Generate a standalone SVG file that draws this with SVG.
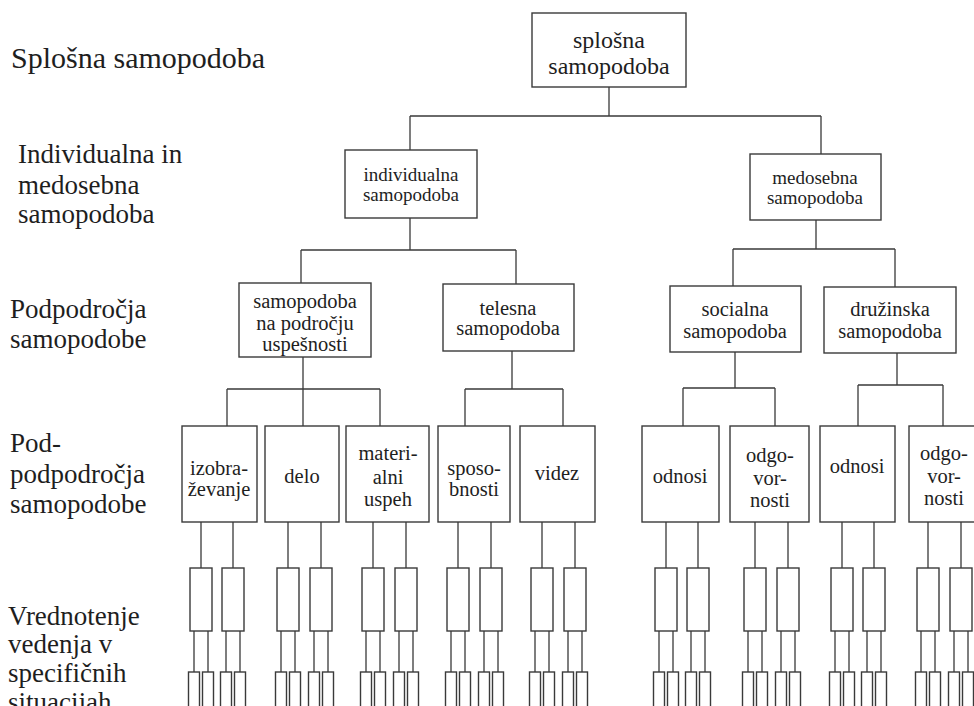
<svg xmlns="http://www.w3.org/2000/svg" width="974" height="706" viewBox="0 0 974 706">
<style>
.bg{fill:#ffffff}
.box{fill:none;stroke:#3a3a3a;stroke-width:1.4}
.conn{fill:none;stroke:#3a3a3a;stroke-width:1.3}
.lbl{font-family:"Liberation Serif","Times New Roman",serif;fill:#1e1e1e}
.side{font-size:27px}
.head{font-size:30px}
.t24{font-size:24px;text-anchor:middle}
.t20{font-size:20.5px;text-anchor:middle}
.t19{font-size:19px;text-anchor:middle}
</style>
<rect class="bg" x="0" y="0" width="974" height="706"/>

<g id="side-labels" class="lbl">
  <text class="head" x="11" y="68">Splošna samopodoba</text>
  <text class="side" x="18" y="163">Individualna in</text>
  <text class="side" x="18" y="194">medosebna</text>
  <text class="side" x="18" y="223">samopodoba</text>
  <text class="side" x="10" y="318">Podpodročja</text>
  <text class="side" x="10" y="348">samopodobe</text>
  <text class="side" x="10" y="452">Pod-</text>
  <text class="side" x="10" y="483">podpodročja</text>
  <text class="side" x="10" y="513">samopodobe</text>
  <text class="side" x="8" y="625">Vrednotenje</text>
  <text class="side" x="8" y="653">vedenja v</text>
  <text class="side" x="8" y="682">specifičnih</text>
  <text class="side" x="8" y="711">situacijah</text>
</g>

<g id="connectors" class="conn">
  <path d="M609 87V116M410 116H821M410 116V150M821 116V154"/>
  <path d="M410 218V250M301 250H516M301 250V283M516 250V284"/>
  <path d="M816 220V249M733 249H895M733 249V286M895 249V287"/>
  <path d="M303 357V389M227 389H380M227 389V426M303 389V426M380 389V426"/>
  <path d="M512 351V389M465 389H563M465 389V426M563 389V426"/>
  <path d="M735 352V388M683 388H775M683 388V426M775 388V426"/>
  <path d="M897 353V385M858 385H943M858 385V426M943 385V426"/>
  <path d="M201 522V568M233 522V568M288 522V568M321 522V568M373 522V568M406 522V568M458 522V568M491 522V568M542 522V568M575 522V568M666 522V568M698 522V568M755 522V568M788 522V568M842 522V568M874 522V568M928 522V568M961 522V568"/>
  <path d="M194 631V672M208 631V672M226 631V672M240 631V672M281 631V672M295 631V672M314 631V672M328 631V672M366 631V672M380 631V672M399 631V672M413 631V672M451 631V672M465 631V672M484 631V672M498 631V672M535 631V672M549 631V672M568 631V672M582 631V672M659 631V672M673 631V672M691 631V672M705 631V672M748 631V672M762 631V672M781 631V672M795 631V672M835 631V672M849 631V672M867 631V672M881 631V672M921 631V672M935 631V672M954 631V672M968 631V672"/>
</g>

<g id="splosna" class="lbl">
  <rect class="box" x="532" y="13" width="154" height="74"/>
  <text class="t24" x="609" y="48">splošna</text>
  <text class="t24" x="609" y="74">samopodoba</text>
</g>
<g id="individualna" class="lbl">
  <rect class="box" x="345" y="150" width="132" height="68"/>
  <text class="t19" x="411" y="181">individualna</text>
  <text class="t19" x="411" y="201">samopodoba</text>
</g>
<g id="medosebna" class="lbl">
  <rect class="box" x="750" y="154" width="131" height="66"/>
  <text class="t19" x="815" y="184">medosebna</text>
  <text class="t19" x="815" y="204">samopodoba</text>
</g>
<g id="uspesnost" class="lbl">
  <rect class="box" x="239" y="283" width="132" height="74"/>
  <text class="t20" x="305" y="308">samopodoba</text>
  <text class="t20" x="305" y="330">na področju</text>
  <text class="t20" x="305" y="351">uspešnosti</text>
</g>
<g id="telesna" class="lbl">
  <rect class="box" x="443" y="284" width="131" height="67"/>
  <text class="t20" x="508" y="315">telesna</text>
  <text class="t20" x="508" y="335">samopodoba</text>
</g>
<g id="socialna" class="lbl">
  <rect class="box" x="670" y="286" width="131" height="66"/>
  <text class="t20" x="735" y="316">socialna</text>
  <text class="t20" x="735" y="338">samopodoba</text>
</g>
<g id="druzinska" class="lbl">
  <rect class="box" x="824" y="287" width="132" height="66"/>
  <text class="t20" x="890" y="316">družinska</text>
  <text class="t20" x="890" y="338">samopodoba</text>
</g>

<g id="izobrazevanje" class="lbl">
  <rect class="box" x="182" y="426" width="75" height="96"/>
  <text class="t20" x="219" y="475">izobra-</text>
  <text class="t20" x="219" y="496">ževanje</text>
</g>
<g id="delo" class="lbl">
  <rect class="box" x="265" y="426" width="74" height="96"/>
  <text class="t20" x="302" y="483">delo</text>
</g>
<g id="materialni" class="lbl">
  <rect class="box" x="346" y="426" width="83" height="96"/>
  <text class="t20" x="388" y="460">materi-</text>
  <text class="t20" x="388" y="484">alni</text>
  <text class="t20" x="388" y="506">uspeh</text>
</g>
<g id="sposobnosti" class="lbl">
  <rect class="box" x="438" y="426" width="72" height="96"/>
  <text class="t20" x="474" y="475">sposo-</text>
  <text class="t20" x="474" y="496">bnosti</text>
</g>
<g id="videz" class="lbl">
  <rect class="box" x="520" y="426" width="75" height="96"/>
  <text class="t20" x="557" y="480">videz</text>
</g>
<g id="odnosi-soc" class="lbl">
  <rect class="box" x="642" y="426" width="77" height="96"/>
  <text class="t20" x="680" y="483">odnosi</text>
</g>
<g id="odgovornosti-soc" class="lbl">
  <rect class="box" x="730" y="426" width="79" height="96"/>
  <text class="t20" x="770" y="462">odgo-</text>
  <text class="t20" x="770" y="485">vor-</text>
  <text class="t20" x="770" y="507">nosti</text>
</g>
<g id="odnosi-dru" class="lbl">
  <rect class="box" x="820" y="426" width="75" height="96"/>
  <text class="t20" x="857" y="473">odnosi</text>
</g>
<g id="odgovornosti-dru" class="lbl">
  <rect class="box" x="909" y="426" width="75" height="96"/>
  <text class="t20" x="944" y="460">odgo-</text>
  <text class="t20" x="944" y="483">vor-</text>
  <text class="t20" x="944" y="505">nosti</text>
</g>

<g id="situacije" class="box">
  <g id="s1"><rect x="190" y="568" width="22" height="63"/><rect x="188.5" y="672" width="11" height="40"/><rect x="202.5" y="672" width="11" height="40"/></g>
  <g id="s2"><rect x="222" y="568" width="22" height="63"/><rect x="220.5" y="672" width="11" height="40"/><rect x="234.5" y="672" width="11" height="40"/></g>
  <g id="s3"><rect x="277" y="568" width="22" height="63"/><rect x="275.5" y="672" width="11" height="40"/><rect x="289.5" y="672" width="11" height="40"/></g>
  <g id="s4"><rect x="310" y="568" width="22" height="63"/><rect x="308.5" y="672" width="11" height="40"/><rect x="322.5" y="672" width="11" height="40"/></g>
  <g id="s5"><rect x="362" y="568" width="22" height="63"/><rect x="360.5" y="672" width="11" height="40"/><rect x="374.5" y="672" width="11" height="40"/></g>
  <g id="s6"><rect x="395" y="568" width="22" height="63"/><rect x="393.5" y="672" width="11" height="40"/><rect x="407.5" y="672" width="11" height="40"/></g>
  <g id="s7"><rect x="447" y="568" width="22" height="63"/><rect x="445.5" y="672" width="11" height="40"/><rect x="459.5" y="672" width="11" height="40"/></g>
  <g id="s8"><rect x="480" y="568" width="22" height="63"/><rect x="478.5" y="672" width="11" height="40"/><rect x="492.5" y="672" width="11" height="40"/></g>
  <g id="s9"><rect x="531" y="568" width="22" height="63"/><rect x="529.5" y="672" width="11" height="40"/><rect x="543.5" y="672" width="11" height="40"/></g>
  <g id="s10"><rect x="564" y="568" width="22" height="63"/><rect x="562.5" y="672" width="11" height="40"/><rect x="576.5" y="672" width="11" height="40"/></g>
  <g id="s11"><rect x="655" y="568" width="22" height="63"/><rect x="653.5" y="672" width="11" height="40"/><rect x="667.5" y="672" width="11" height="40"/></g>
  <g id="s12"><rect x="687" y="568" width="22" height="63"/><rect x="685.5" y="672" width="11" height="40"/><rect x="699.5" y="672" width="11" height="40"/></g>
  <g id="s13"><rect x="744" y="568" width="22" height="63"/><rect x="742.5" y="672" width="11" height="40"/><rect x="756.5" y="672" width="11" height="40"/></g>
  <g id="s14"><rect x="777" y="568" width="22" height="63"/><rect x="775.5" y="672" width="11" height="40"/><rect x="789.5" y="672" width="11" height="40"/></g>
  <g id="s15"><rect x="831" y="568" width="22" height="63"/><rect x="829.5" y="672" width="11" height="40"/><rect x="843.5" y="672" width="11" height="40"/></g>
  <g id="s16"><rect x="863" y="568" width="22" height="63"/><rect x="861.5" y="672" width="11" height="40"/><rect x="875.5" y="672" width="11" height="40"/></g>
  <g id="s17"><rect x="917" y="568" width="22" height="63"/><rect x="915.5" y="672" width="11" height="40"/><rect x="929.5" y="672" width="11" height="40"/></g>
  <g id="s18"><rect x="950" y="568" width="22" height="63"/><rect x="948.5" y="672" width="11" height="40"/><rect x="962.5" y="672" width="11" height="40"/></g>
</g>
</svg>
